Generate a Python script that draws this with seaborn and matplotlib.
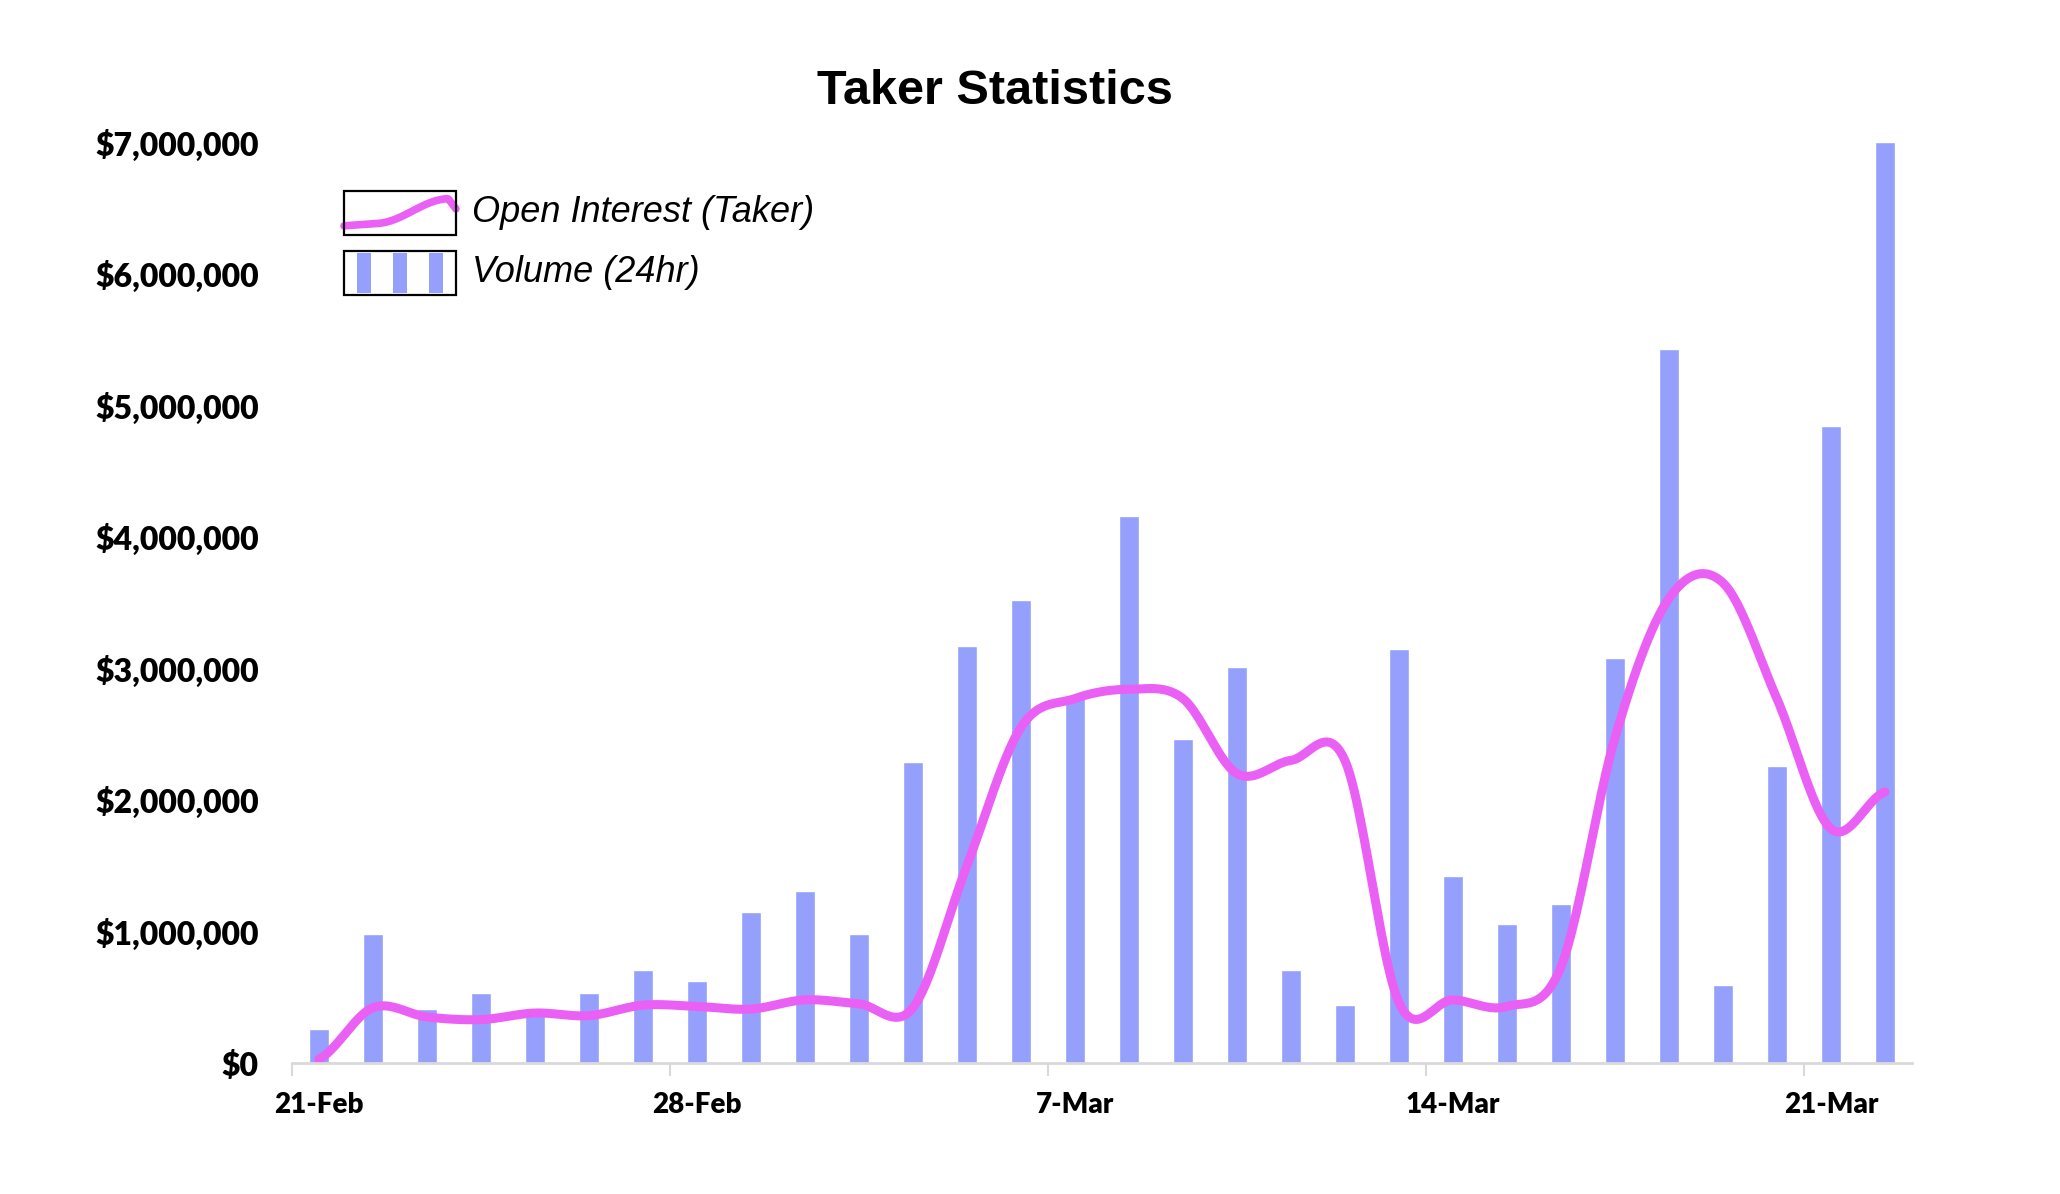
import numpy as np
import pandas as pd
import seaborn as sns
import matplotlib.pyplot as plt
from matplotlib.legend_handler import HandlerBase
from matplotlib.patches import Rectangle
from matplotlib.lines import Line2D
from matplotlib.ticker import FuncFormatter

# daily data, 21-Feb .. 22-Mar (values in $ millions)
days = [f"{d.day}-{d.strftime('%b')}" for d in pd.date_range('2022-02-21', '2022-03-22')]
volume = [0.26, 0.98, 0.41, 0.53, 0.37, 0.53, 0.71, 0.625, 1.15, 1.31,
          0.98, 2.29, 3.17, 3.52, 2.80, 4.16, 2.46, 3.01, 0.71, 0.44,
          3.15, 1.42, 1.06, 1.21, 3.08, 5.43, 0.59, 2.26, 4.84, 7.00]
open_interest = [0.03, 0.42, 0.35, 0.33, 0.38, 0.36, 0.44, 0.43, 0.41, 0.48,
                 0.45, 0.42, 1.50, 2.55, 2.77, 2.84, 2.77, 2.20, 2.30, 2.30,
                 0.46, 0.48, 0.43, 0.73, 2.47, 3.53, 3.65, 2.77, 1.78, 2.06]
tick_days = ['21-Feb', '28-Feb', '7-Mar', '14-Mar', '21-Mar']

BAR = '#95A0FC'
LINE = '#EA60F5'

df = pd.DataFrame({'day': days, 'volume': np.array(volume) * 1e6,
                   'oi': np.array(open_interest) * 1e6})
df['pos'] = np.arange(len(df))


# excel style smoothed line (catmull-rom through the daily points)
def smooth(y, steps=24):
    y = np.asarray(y, dtype=float)
    p = np.concatenate([[y[0]], y, [y[-1]]])
    xs, ys = [], []
    for i in range(len(y) - 1):
        t = np.linspace(0, 1, steps, endpoint=False)
        p0, p1, p2, p3 = p[i], p[i + 1], p[i + 2], p[i + 3]
        m1 = (p2 - p0) / 2
        m2 = (p3 - p1) / 2
        h00 = 2 * t**3 - 3 * t**2 + 1
        h10 = t**3 - 2 * t**2 + t
        h01 = -2 * t**3 + 3 * t**2
        h11 = t**3 - t**2
        xs.append(i + t)
        ys.append(h00 * p1 + h10 * m1 + h01 * p2 + h11 * m2)
    xs.append([len(y) - 1])
    ys.append([y[-1]])
    return np.concatenate(xs), np.concatenate(ys)


sx, sy = smooth(df['oi'])
curve = pd.DataFrame({'x': sx, 'y': sy})

sns.set_style('white')
plt.rcParams['text.color'] = 'black'
plt.rcParams['xtick.color'] = 'black'
plt.rcParams['ytick.color'] = 'black'

fig = plt.figure(figsize=(20.6, 11.94), dpi=100)
ax = fig.add_axes([0.1417, 0.1097, 0.7864, 0.7714])

sns.barplot(data=df, x='pos', y='volume', color=BAR, width=0.38,
            saturation=1, native_scale=True, ax=ax)
sns.lineplot(data=curve, x='x', y='y', color=LINE, linewidth=6.5, ax=ax)

ax.set_xlim(-0.5, len(df) - 0.5)
ax.set_ylim(0, 7e6)
ax.set_xlabel('')
ax.set_ylabel('')

tick_font = {'family': 'Lato', 'weight': 'heavy'}

# labels at day centres, tick marks at week boundaries
ax.set_xticks([days.index(d) for d in tick_days])
ax.set_xticklabels(tick_days, fontdict={**tick_font, 'size': 20})
ax.set_xticks([days.index(d) - 0.5 for d in tick_days], minor=True)
ax.tick_params(axis='x', which='major', length=0, pad=21)
ax.tick_params(axis='x', which='minor', length=9, width=1.5, color='#d9d9d9', bottom=True)

ax.set_yticks(np.arange(0, 7.01e6, 1e6))
ax.yaxis.set_major_formatter(FuncFormatter(lambda v, _: f'${v:,.0f}'))
ax.tick_params(axis='y', length=0, pad=24)
for lbl in ax.get_yticklabels():
    lbl.set_fontfamily(tick_font['family'])
    lbl.set_fontweight(tick_font['weight'])
    lbl.set_fontsize(23)

for s in ['top', 'right', 'left']:
    ax.spines[s].set_visible(False)
ax.spines['bottom'].set_color('#d9d9d9')
ax.spines['bottom'].set_linewidth(2)


def centred(yd, h, fontsize):
    # handle box sits on the text baseline; move it down to the text centre
    return yd - (h / 2 - 0.54 * fontsize)


class BoxLine(HandlerBase):
    def create_artists(self, legend, orig, xd, yd, w, h, fontsize, trans):
        y0 = centred(-yd, h, fontsize)
        t = np.linspace(0, 1, 60)
        y = 0.2 + 0.18 * t + 0.45 * np.sin(np.pi * np.clip((t - 0.3) / 0.62, 0, 1) / 2) ** 2
        y[t > 0.93] -= (t[t > 0.93] - 0.93) * 3.5
        line = Line2D(-xd + t * w, y0 + h * y, color=LINE, lw=5.5, transform=trans)
        frame = Rectangle((-xd, y0), w, h, fill=False, ec='black', lw=1.6, transform=trans)
        return [line, frame]


class BoxBars(HandlerBase):
    def create_artists(self, legend, orig, xd, yd, w, h, fontsize, trans):
        y0 = centred(-yd, h, fontsize)
        arts = []
        for c in [0.18, 0.5, 0.82]:
            arts.append(Rectangle((-xd + (c - 0.065) * w, y0 + 0.04 * h), 0.13 * w, 0.92 * h,
                                  fc=BAR, ec='none', transform=trans))
        arts.append(Rectangle((-xd, y0), w, h, fill=False, ec='black', lw=1.6, transform=trans))
        return arts


h_line = Line2D([], [])
h_bar = Rectangle((0, 0), 1, 1)
fig.legend([h_line, h_bar], ['Open Interest (Taker)', 'Volume (24hr)'],
           handler_map={h_line: BoxLine(), h_bar: BoxBars()},
           loc='upper left', bbox_to_anchor=(0.167, 0.8425), frameon=False,
           borderpad=0, borderaxespad=0, handlelength=3.1, handleheight=1.5,
           handletextpad=0.45, labelspacing=0.45,
           prop={'family': 'Liberation Sans', 'style': 'italic', 'size': 26})

fig.suptitle('Taker Statistics', x=0.483, y=0.923, va='center',
             fontfamily='Liberation Sans', fontweight='bold', fontsize=35)

fig.savefig('out.png', dpi=100)
